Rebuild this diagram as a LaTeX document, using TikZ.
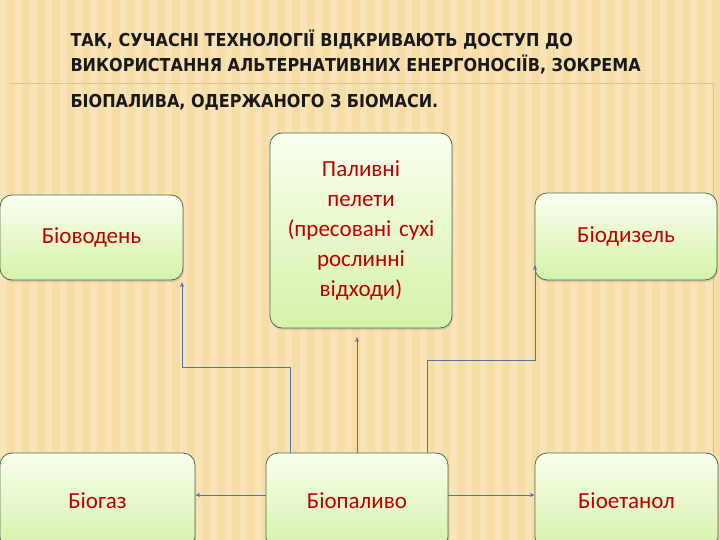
\documentclass[tikz,border=0pt]{standalone}
\usepackage{fontspec}
\setmainfont{Carlito}
\newfontfamily\titlefont{DejaVu Sans Condensed}
\usetikzlibrary{arrows.meta,shadows}
\definecolor{bg}{HTML}{F6DDA8}
\definecolor{bgl}{HTML}{FBEBC6}
\definecolor{txtred}{HTML}{C00000}
\definecolor{boxtop}{HTML}{FAFFF0}
\definecolor{boxbot}{HTML}{D6F2A8}
\definecolor{lineblue}{HTML}{5B6FA8}
\tikzset{
  gbox/.style={draw=black!65!green!40!gray, line width=0.8pt, rounded corners=12pt,
    top color=boxtop, bottom color=boxbot, drop shadow={opacity=0.25,shadow xshift=1pt,shadow yshift=-2pt},
    text=txtred, font=\fontsize{23}{27}\selectfont, align=center, inner sep=0pt},
  conn/.style={draw=lineblue, line width=1pt, -{Stealth[length=5pt,width=4pt]}},
  ttl/.style={anchor=base west, font=\titlefont\bfseries\fontsize{17.8}{27}\selectfont, text=black!90}
}
\begin{document}
\begin{tikzpicture}[x=1pt,y=-1pt]
\useasboundingbox (0,0) rectangle (720,540);
\fill[bg] (0,0) rectangle (720,540);
\foreach \i in {0,...,48} {\fill[bgl,opacity=0.5] (\i*15,0) rectangle ++(7,540);}
\draw[bg!70!brown, line width=0.6pt] (10,83) -- (713,83) -- (713,540);
\node[ttl] (t1) at (67,47) {ТАК, СУЧАСНІ ТЕХНОЛОГІЇ ВІДКРИВАЮТЬ ДОСТУП ДО};
\node[ttl] (t2) at (67,72) {ВИКОРИСТАННЯ АЛЬТЕРНАТИВНИХ ЕНЕРГОНОСІЇВ, ЗОКРЕМА};
\node[ttl] (t3) at (67,108) {БІОПАЛИВА, ОДЕРЖАНОГО З БІОМАСИ.};
\node[gbox, minimum width=183pt, minimum height=85pt] (h2) at (91.5,237.5) {Біоводень};
\node[gbox, minimum width=182pt, minimum height=195pt, text width=170pt, font=\fontsize{23}{30}\selectfont] (pel) at (361,230.5) {Паливні\\ пелети\\ (пресовані сухі\\ рослинні\\ відходи)};
\node[gbox, minimum width=182pt, minimum height=87pt] (dz) at (626,236.5) {Біодизель};
\node[gbox, minimum width=195pt, minimum height=96pt] (gas) at (97.5,501) {Біогаз};
\node[gbox, minimum width=182pt, minimum height=96pt] (bio) at (357,501) {Біопаливо};
\node[gbox, minimum width=183pt, minimum height=96pt] (et) at (626.5,501) {Біоетанол};
\coordinate (c1) at (290,453);
\coordinate (c2) at (357,453);
\coordinate (c2e) at (357,337);
\coordinate (c3) at (427,453);
\draw[conn] (c1) -- (290,367) -- (182,367) -- (182,282);
\draw[conn] (c2) -- (c2e);
\draw[conn] (c3) -- (427,360) -- (535,360) -- (535,265);
\draw[conn] (bio.west |- 0,495) -- (gas.east |- 0,495);
\draw[conn] (bio.east |- 0,495) -- (et.west |- 0,495);
\end{tikzpicture}
\end{document}
